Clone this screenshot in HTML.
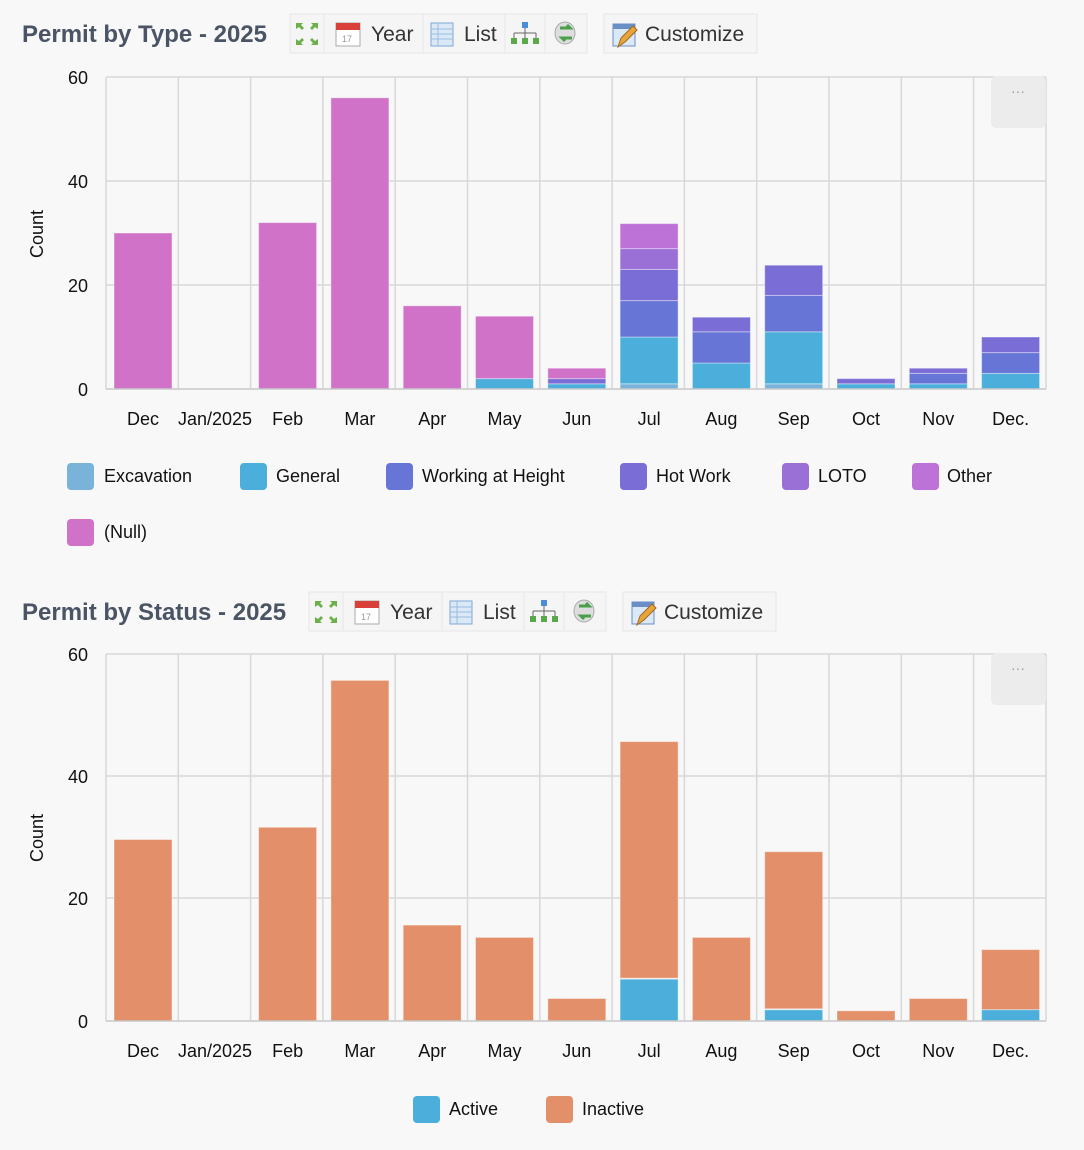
<!DOCTYPE html>
<html><head><meta charset="utf-8"><style>
html,body{margin:0;padding:0;background:#f8f8f8;}
svg{display:block;font-family:"Liberation Sans",sans-serif;}
</style></head><body>
<svg width="1084" height="1150" viewBox="0 0 1084 1150" xmlns="http://www.w3.org/2000/svg">
<rect width="1084" height="1150" fill="#f8f8f8"/>
<defs>
<g id="tb">
 <rect x="0" y="0" width="297" height="39" fill="#f5f5f5" stroke="#e6e6e6"/>
 <line x1="34" y1="0" x2="34" y2="39" stroke="#e6e6e6"/>
 <line x1="133" y1="0" x2="133" y2="39" stroke="#e6e6e6"/>
 <line x1="215" y1="0" x2="215" y2="39" stroke="#e6e6e6"/>
 <line x1="255" y1="0" x2="255" y2="39" stroke="#e6e6e6"/>
 <g fill="#6cb04a"><path d="M6 9h7l-2 2 3 3-2 2-3-3-3 2z"/><path d="M28 9h-7l2 2-3 3 2 2 3-3 3 2z"/><path d="M6 31h7l-2-2 3-3-2-2-3 3-3-2z"/><path d="M28 31h-7l2-2-3-3 2-2 3 3 3-2z"/></g>
 <rect x="46" y="9" width="24" height="23" fill="#fff" stroke="#aaa"/><rect x="46" y="9" width="24" height="7" fill="#d9403a"/>
 <text x="52" y="28" font-size="9" fill="#999">17</text>
 <text x="81" y="27" font-size="21" fill="#333">Year</text>
 <rect x="141" y="9" width="22" height="23" fill="#dbe9f7" stroke="#7fa6d6"/>
 <g stroke="#9bbbe0"><line x1="141" y1="15" x2="163" y2="15"/><line x1="141" y1="20" x2="163" y2="20"/><line x1="141" y1="25" x2="163" y2="25"/><line x1="148" y1="9" x2="148" y2="32"/></g>
 <text x="174" y="27" font-size="21" fill="#333">List</text>
 <rect x="232" y="8" width="6" height="6" fill="#4a8fd6"/><path d="M235 14v5M224 19h22M224 19v5M235 19v5M246 19v5" stroke="#666" fill="none"/>
 <rect x="221" y="24" width="6" height="6" fill="#5aa84a"/><rect x="232" y="24" width="6" height="6" fill="#5aa84a"/><rect x="243" y="24" width="6" height="6" fill="#5aa84a"/>
 <ellipse cx="275" cy="19" rx="10" ry="11" fill="#ddd" stroke="#aaa"/><path d="M270 14h10l-3-3M282 24h-10l3 3" stroke="#4aa04a" stroke-width="3" fill="none"/>
 <rect x="314" y="0" width="153" height="39" fill="#f5f5f5" stroke="#e6e6e6"/>
 <rect x="323" y="10" width="22" height="22" fill="#dbe9f7" stroke="#6a8fc6"/><rect x="323" y="10" width="22" height="5" fill="#6a8fc6"/>
 <path d="M328 33l3-9 12-12 4 4-12 12z" fill="#e8a53c" stroke="#a06a1c"/>
 <text x="355" y="27" font-size="21" fill="#333">Customize</text>
</g>
</defs>

<!-- Chart 1 -->
<text x="22" y="42" font-size="24" font-weight="bold" fill="#4a5464">Permit by Type - 2025</text>
<use href="#tb" x="290" y="14"/>
<g stroke="#d8d8d8" stroke-width="1.5">
<line x1="106" y1="77" x2="1046" y2="77"/><line x1="106" y1="181" x2="1046" y2="181"/><line x1="106" y1="285" x2="1046" y2="285"/>
<line x1="106" y1="77" x2="106" y2="389"/><line x1="178.3" y1="77" x2="178.3" y2="389"/><line x1="250.6" y1="77" x2="250.6" y2="389"/><line x1="322.9" y1="77" x2="322.9" y2="389"/><line x1="395.2" y1="77" x2="395.2" y2="389"/><line x1="467.5" y1="77" x2="467.5" y2="389"/><line x1="539.8" y1="77" x2="539.8" y2="389"/><line x1="612.1" y1="77" x2="612.1" y2="389"/><line x1="684.4" y1="77" x2="684.4" y2="389"/><line x1="756.7" y1="77" x2="756.7" y2="389"/><line x1="829" y1="77" x2="829" y2="389"/><line x1="901.3" y1="77" x2="901.3" y2="389"/><line x1="973.6" y1="77" x2="973.6" y2="389"/><line x1="1046" y1="77" x2="1046" y2="389"/>
</g>
<rect x="991" y="76" width="55" height="52" rx="5" fill="#ececec"/>
<text x="1018" y="96" font-size="14" fill="#999" text-anchor="middle">···</text>
<g stroke="#ffffff" stroke-opacity="0.4" stroke-width="1">
<rect x="114" y="233" width="58" height="156" fill="#cf72c8"/>
<rect x="258.6" y="222.6" width="58" height="166.4" fill="#cf72c8"/>
<rect x="330.9" y="97.8" width="58" height="291.2" fill="#cf72c8"/>
<rect x="403.2" y="305.8" width="58" height="83.2" fill="#cf72c8"/>
<rect x="475.5" y="378.6" width="58" height="10.4" fill="#4cafdb"/><rect x="475.5" y="316.2" width="58" height="62.4" fill="#cf72c8"/>
<rect x="547.8" y="383.8" width="58" height="5.2" fill="#4cafdb"/><rect x="547.8" y="378.6" width="58" height="5.2" fill="#7b6dd6"/><rect x="547.8" y="368.2" width="58" height="10.4" fill="#cf72c8"/>
<rect x="620.1" y="383.8" width="58" height="5.2" fill="#7ab3d9"/><rect x="620.1" y="337" width="58" height="46.8" fill="#4cafdb"/><rect x="620.1" y="300.6" width="58" height="36.4" fill="#6776d6"/><rect x="620.1" y="269.4" width="58" height="31.2" fill="#7b6dd6"/><rect x="620.1" y="248.6" width="58" height="20.8" fill="#9b70d6"/><rect x="620.1" y="223.6" width="58" height="25" fill="#bc72d6"/>
<rect x="692.4" y="363" width="58" height="26" fill="#4cafdb"/><rect x="692.4" y="331.8" width="58" height="31.2" fill="#6776d6"/><rect x="692.4" y="317.2" width="58" height="14.6" fill="#7b6dd6"/>
<rect x="764.7" y="383.8" width="58" height="5.2" fill="#7ab3d9"/><rect x="764.7" y="331.8" width="58" height="52" fill="#4cafdb"/><rect x="764.7" y="295.4" width="58" height="36.4" fill="#6776d6"/><rect x="764.7" y="265.2" width="58" height="30.2" fill="#7b6dd6"/>
<rect x="837" y="383.8" width="58" height="5.2" fill="#4cafdb"/><rect x="837" y="378.6" width="58" height="5.2" fill="#7b6dd6"/>
<rect x="909.3" y="383.8" width="58" height="5.2" fill="#4cafdb"/><rect x="909.3" y="373.4" width="58" height="10.4" fill="#6776d6"/><rect x="909.3" y="368.2" width="58" height="5.2" fill="#7b6dd6"/>
<rect x="981.6" y="373.4" width="58" height="15.6" fill="#4cafdb"/><rect x="981.6" y="352.6" width="58" height="20.8" fill="#6776d6"/><rect x="981.6" y="337" width="58" height="15.6" fill="#7b6dd6"/>
</g>
<line x1="106" y1="389" x2="1046" y2="389" stroke="#c8c8c8" stroke-width="1.5"/>
<g font-size="18" fill="#111" text-anchor="end">
<text x="88" y="84">60</text><text x="88" y="188">40</text><text x="88" y="292">20</text><text x="88" y="396">0</text>
</g>
<text transform="translate(43,234) rotate(-90)" font-size="18" fill="#111" text-anchor="middle">Count</text>
<g font-size="18" fill="#111" text-anchor="middle">
<text x="143" y="425">Dec</text><text x="215" y="425">Jan/2025</text><text x="287.6" y="425">Feb</text><text x="359.9" y="425">Mar</text><text x="432.2" y="425">Apr</text><text x="504.5" y="425">May</text><text x="576.8" y="425">Jun</text><text x="649.1" y="425">Jul</text><text x="721.4" y="425">Aug</text><text x="793.7" y="425">Sep</text><text x="866" y="425">Oct</text><text x="938.3" y="425">Nov</text><text x="1010.6" y="425">Dec.</text>
</g>
<g font-size="18" fill="#111">
<rect x="67" y="463" width="27" height="27" rx="4" fill="#7ab3d9"/><text x="104" y="482">Excavation</text>
<rect x="240" y="463" width="27" height="27" rx="4" fill="#4cafdb"/><text x="276" y="482">General</text>
<rect x="386" y="463" width="27" height="27" rx="4" fill="#6776d6"/><text x="422" y="482">Working at Height</text>
<rect x="620" y="463" width="27" height="27" rx="4" fill="#7b6dd6"/><text x="656" y="482">Hot Work</text>
<rect x="782" y="463" width="27" height="27" rx="4" fill="#9b70d6"/><text x="818" y="482">LOTO</text>
<rect x="912" y="463" width="27" height="27" rx="4" fill="#bc72d6"/><text x="947" y="482">Other</text>
<rect x="67" y="519" width="27" height="27" rx="4" fill="#cf72c8"/><text x="104" y="538">(Null)</text>
</g>

<!-- Chart 2 -->
<text x="22" y="620" font-size="24" font-weight="bold" fill="#4a5464">Permit by Status - 2025</text>
<use href="#tb" x="309" y="592"/>
<g stroke="#d8d8d8" stroke-width="1.5">
<line x1="106" y1="654" x2="1046" y2="654"/><line x1="106" y1="776" x2="1046" y2="776"/><line x1="106" y1="898" x2="1046" y2="898"/>
<line x1="106" y1="654" x2="106" y2="1021"/><line x1="178.3" y1="654" x2="178.3" y2="1021"/><line x1="250.6" y1="654" x2="250.6" y2="1021"/><line x1="322.9" y1="654" x2="322.9" y2="1021"/><line x1="395.2" y1="654" x2="395.2" y2="1021"/><line x1="467.5" y1="654" x2="467.5" y2="1021"/><line x1="539.8" y1="654" x2="539.8" y2="1021"/><line x1="612.1" y1="654" x2="612.1" y2="1021"/><line x1="684.4" y1="654" x2="684.4" y2="1021"/><line x1="756.7" y1="654" x2="756.7" y2="1021"/><line x1="829" y1="654" x2="829" y2="1021"/><line x1="901.3" y1="654" x2="901.3" y2="1021"/><line x1="973.6" y1="654" x2="973.6" y2="1021"/><line x1="1046" y1="654" x2="1046" y2="1021"/>
</g>
<rect x="991" y="653" width="55" height="52" rx="5" fill="#ececec"/>
<text x="1018" y="673" font-size="14" fill="#999" text-anchor="middle">···</text>
<g stroke="#ffffff" stroke-opacity="0.4" stroke-width="1" fill="#e3906a">
<rect x="114" y="839.5" width="58" height="181.5"/>
<rect x="258.6" y="827.3" width="58" height="193.7"/>
<rect x="330.9" y="680.4" width="58" height="340.6"/>
<rect x="403.2" y="925.1" width="58" height="95.9"/>
<rect x="475.5" y="937.4" width="58" height="83.6"/>
<rect x="547.8" y="998.5" width="58" height="22.5"/>
<rect x="620.1" y="741.6" width="58" height="236.6"/><rect x="620.1" y="979.2" width="58" height="41.8" fill="#4cafdb"/>
<rect x="692.4" y="937.4" width="58" height="83.6"/>
<rect x="764.7" y="851.7" width="58" height="157.1"/><rect x="764.7" y="1009.8" width="58" height="11.2" fill="#4cafdb"/>
<rect x="837" y="1010.8" width="58" height="10.2"/>
<rect x="909.3" y="998.5" width="58" height="22.5"/>
<rect x="981.6" y="949.6" width="58" height="60.2"/><rect x="981.6" y="1009.8" width="58" height="11.2" fill="#4cafdb"/>
</g>
<line x1="106" y1="1021" x2="1046" y2="1021" stroke="#c8c8c8" stroke-width="1.5"/>
<g font-size="18" fill="#111" text-anchor="end">
<text x="88" y="661">60</text><text x="88" y="783">40</text><text x="88" y="905">20</text><text x="88" y="1028">0</text>
</g>
<text transform="translate(43,838) rotate(-90)" font-size="18" fill="#111" text-anchor="middle">Count</text>
<g font-size="18" fill="#111" text-anchor="middle">
<text x="143" y="1057">Dec</text><text x="215" y="1057">Jan/2025</text><text x="287.6" y="1057">Feb</text><text x="359.9" y="1057">Mar</text><text x="432.2" y="1057">Apr</text><text x="504.5" y="1057">May</text><text x="576.8" y="1057">Jun</text><text x="649.1" y="1057">Jul</text><text x="721.4" y="1057">Aug</text><text x="793.7" y="1057">Sep</text><text x="866" y="1057">Oct</text><text x="938.3" y="1057">Nov</text><text x="1010.6" y="1057">Dec.</text>
</g>
<g font-size="18" fill="#111">
<rect x="413" y="1096" width="27" height="27" rx="4" fill="#4cafdb"/><text x="449" y="1115">Active</text>
<rect x="546" y="1096" width="27" height="27" rx="4" fill="#e3906a"/><text x="582" y="1115">Inactive</text>
</g>
</svg>
</body></html>
